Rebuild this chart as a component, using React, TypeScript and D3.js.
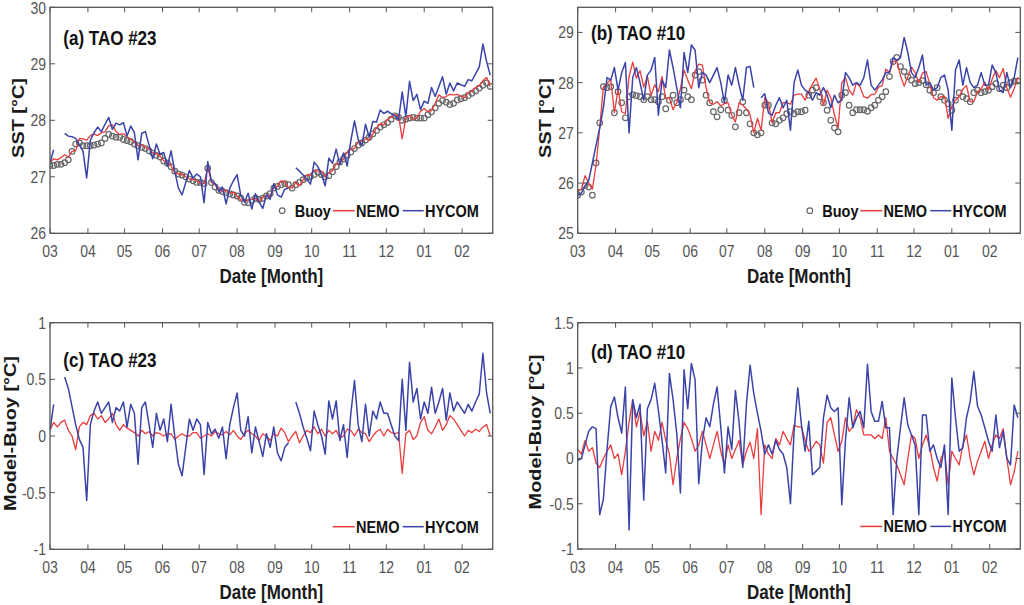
import React from 'react';
import * as d3 from 'd3';

// ---------- time axis ----------
const START = new Date(2015, 2, 1);
const END = new Date(2016, 1, 26);
const dayOffsets: number[] = d3.range(0, 361, 3);
const dates: Date[] = dayOffsets.map((d) => d3.timeDay.offset(START, d));

// ---------- (a) TAO #23 SST ----------
const buoyA = [
  27.2, 27.2, 27.22, 27.22, 27.25, 27.3, 27.45, 27.58, 27.6, 27.55,
  27.55, 27.55, 27.56, 27.58, 27.6, 27.68, 27.75, 27.72, 27.7, 27.7,
  27.66, 27.64, 27.62, 27.58, 27.55, 27.52, 27.5, 27.46, 27.42, 27.38,
  27.35, 27.28, 27.24, 27.18, 27.1, 27.05, 27.03, 27.0, 26.96, 26.93,
  26.9, 26.9, 26.88, 27.15, 26.9, 26.82, 26.76, 26.74, 26.72, 26.7,
  26.68, 26.66, 26.62, 26.55, 26.54, 26.58, 26.62, 26.6, 26.62, 26.66,
  26.7, 26.8, 26.83, 26.86, 26.88, 26.86, 26.8, 26.86, 26.9, 26.95,
  26.98, 27.0, 27.04, 27.08, 27.04, 27.0, 27.02, 27.09, 27.18, 27.26,
  27.32, 27.38, 27.44, 27.5, 27.56, 27.6, 27.65, 27.7, 27.76, 27.82,
  27.88, 27.92, 27.96, 28.02, 28.08, 28.05, 28.0, 28.02, 28.04, 28.05,
  28.04, 28.04, 28.04, 28.1, 28.15, 28.22, 28.3, 28.35, 28.32, 28.28,
  28.3, 28.36, 28.38, 28.4, 28.44, 28.48, 28.52, 28.57, 28.62, 28.66,
  28.6,
];
const nemoA = [
  27.25, 27.32, 27.3, 27.34, 27.39, 27.35, 27.45, 27.46, 27.68, 27.67,
  27.65, 27.73, 27.76, 27.73, 27.78, 27.8, 27.9, 27.92, 27.8, 27.75,
  27.76, 27.71, 27.67, 27.61, 27.55, 27.57, 27.52, 27.5, 27.42, 27.41,
  27.37, 27.28, 27.26, 27.2, 27.07, 27.05, 27.05, 27.0, 26.96, 26.96,
  26.93, 26.88, 26.88, 27.17, 26.9, 26.86, 26.78, 26.75, 26.76, 26.71,
  26.73, 26.66, 26.59, 26.57, 26.59, 26.6, 26.62, 26.56, 26.64, 26.66,
  26.66, 26.82, 26.83, 26.93, 26.91, 26.81, 26.8, 26.9, 26.84, 26.95,
  27.03, 27.03, 27.12, 27.1, 27.1, 27.0, 27.07, 27.11, 27.23, 27.24,
  27.32, 27.44, 27.49, 27.5, 27.62, 27.63, 27.67, 27.65, 27.76, 27.86,
  27.94, 27.92, 28.02, 28.05, 28.1, 28.08, 27.67, 28.04, 28.09, 28.02,
  28.04, 28.16, 28.21, 28.15, 28.17, 28.3, 28.45, 28.4, 28.42, 28.46,
  28.45, 28.46, 28.43, 28.4, 28.49, 28.51, 28.58, 28.61, 28.7, 28.76,
  28.6,
];
const hycomA: (number | null)[] = [
  27.25, 27.48, null, null, 27.77, 27.72, 27.71, 27.68, 27.57, 27.45,
  26.98, 27.65, 27.78, 27.88, 27.8, 27.93, 28.05, 27.84, 27.95, 27.92,
  27.96, 27.72, 27.9, 27.78, 27.3, 27.77, 27.8, 27.56, 27.32, 27.58,
  27.4, 27.43, 27.19, 27.46, 27.1, 26.8, 26.68, 26.9, 27.11, 26.98,
  27.05, 27.0, 26.54, 27.27, 26.92, 26.88, 26.74, 26.82, 26.52, 26.8,
  26.93, 27.04, 26.67, 26.55, 26.71, 26.43, 26.7, 26.55, 26.44, 26.68,
  26.6, 26.88, 26.68, 26.64, 26.78, 26.8, null, 27.16, 27.1, 27.03,
  26.96, 26.87, 27.26, 27.18, 27.04, 26.84, 27.33, 27.24, 27.49, 27.22,
  27.42, 27.19, 27.64, 27.99, 27.66, 27.55, 27.93, 27.7, 27.98, 27.97,
  28.18, 28.12, 28.16, 28.12, 28.08, 28.01, 28.5, 28.07, 28.69, 28.35,
  28.46, 28.19, 28.34, 28.3, 28.58, 28.42, 28.6, 28.77, 28.46, 28.66,
  28.52, 28.66, 28.63, 28.6, 28.72, 28.7, 28.82, 28.94, 29.35, 29.04,
  28.8,
];

// ---------- (b) TAO #10 SST ----------
const buoyB = [
  25.76, 25.82, 25.95, 25.92, 25.76, 26.4, 27.2, 27.92, 27.9, 27.92,
  27.4, 27.82, 27.6, 27.3, 27.72, 27.76, 27.74, 27.72, 27.66, 27.72,
  27.66, 27.66, 27.62, 27.72, 27.48, 27.65, 27.75, 27.6, 27.66, 27.85,
  27.72, 27.66, 28.15, 28.22, 28.05, 27.75, 27.6, 27.42, 27.32, 27.46,
  27.65, 27.45, 27.35, 27.12, 27.4, 27.62, 27.4, 27.18, 27.0, 26.96,
  27.0, 27.55, 27.55, 27.2, 27.18, 27.25, 27.3, 27.38, 27.42, 27.38,
  27.42, 27.42, 27.45, 27.75, 27.85, 27.9, 27.72, 27.6, 27.45, 27.25,
  27.1, 27.02, 27.75, 27.8, 27.55, 27.4, 27.46, 27.46, 27.46, 27.43,
  27.5, 27.55, 27.65, 27.72, 27.82, 28.12, 28.42, 28.5, 28.32, 28.22,
  28.12, 28.05, 27.98, 28.0, 28.04, 27.96, 27.85, 27.8, 27.9, 27.72,
  27.65, 27.58, 27.45, 27.65, 27.8, 27.72, 27.68, 27.62, 27.8, 27.85,
  27.8, 27.82, 27.85, 27.92, 27.98, 27.88, 27.95, 27.9, 28.0, 28.03,
  28.03,
];
const nemoB = [
  25.86, 25.87, 26.15, 26.0, 25.88, 26.35, 27.1, 27.92, 27.98, 28.07,
  27.4, 27.87, 27.42, 27.38, 28.12, 28.41, 28.09, 28.24, 27.91, 28.13,
  27.74, 27.96, 27.82, 28.12, 27.68, 27.7, 27.46, 27.6, 27.88, 28.25,
  28.05, 27.88, 28.23, 28.37, 28.35, 27.9, 27.6, 27.57, 27.62, 27.54,
  27.58, 27.6, 27.35, 27.22, 27.6, 27.55, 27.48, 27.36, 27.0, 27.29,
  27.05, 27.7, 27.6, 27.2, 27.4, 27.4, 27.6, 27.6, 27.57, 27.75,
  27.77, 27.77, 27.65, 27.83, 27.97, 28.09, 27.87, 27.55, 27.85, 27.7,
  27.36, 27.1, 28.0, 28.1, 27.85, 27.75, 28.0, 27.91, 27.72, 27.69,
  27.76, 27.77, 27.91, 27.94, 28.27, 28.2, 28.42, 28.43, 28.14, 27.93,
  28.12, 28.31, 28.2, 28.0, 28.19, 28.22, 27.97, 27.7, 27.65, 27.72,
  27.73, 27.29, 27.53, 27.65, 27.73, 27.87, 27.94, 27.62, 27.62, 27.82,
  27.88, 28.01, 27.85, 28.07, 28.24, 28.1, 28.28, 27.9, 27.71, 27.88,
  28.11,
];
const hycomB: (number | null)[] = [
  25.75, 25.8, 25.95, 26.05, 26.4, 26.75, 27.1, 27.5, 28.1, 28.05,
  28.3, 27.85, 28.2, 28.4, 27.0, 28.1, 28.3, 28.0, 27.65, 28.15,
  28.25, 28.5, 27.35, 28.05, 27.9, 28.65, 28.3, 27.9, 27.5, 28.6,
  28.2, 28.75, 28.65, 27.9, 28.2, 28.15, 28.0, 28.15, 28.3, 28.0,
  27.6, 28.15, 27.95, 28.3, 27.95, 27.65, 28.3, 28.32, 27.9, null,
  27.7, 27.78, 27.4, 27.35, 27.55, 27.7, 27.5, 27.65, 27.05, 28.0,
  28.25, 27.95, 27.85, 27.8, 27.65, 27.8, 27.75, 27.9, 27.75, 27.5,
  27.75, 27.6, 27.65, 28.2, 28.1, 27.95, 28.0, 27.95, 28.1, 28.45,
  27.95, 27.85, 27.95, 28.05, 28.2, 28.2, 28.5, 28.45, 28.5, 28.9,
  28.6, 28.2, 28.1, 28.3, 28.55, 27.95, 28.0, 27.85, 27.9, 28.1,
  28.15, 27.85, 27.05, 28.25, 28.45, 27.95, 28.3, 28.0, 27.9, 27.95,
  28.2, 27.95, 27.95, 28.35, 28.2, 27.85, 27.8, 28.2, 27.9, 28.1,
  28.5,
];

// ---------- (c) TAO #23 Model-Buoy ----------
const nemoC = [
  0.05, 0.12, 0.08, 0.12, 0.14, 0.05, 0.0, -0.12, 0.08, 0.12,
  0.1, 0.18, 0.2, 0.15, 0.18, 0.12, 0.15, 0.2, 0.1, 0.05,
  0.1, 0.07, 0.05, 0.03, 0.0, 0.05, 0.02, 0.04, 0.0, 0.03,
  0.02, 0.0, 0.02, 0.02, -0.03, 0.0, 0.02, 0.0, 0.0, 0.03,
  0.03, -0.02, 0.0, 0.02, 0.0, 0.04, 0.02, 0.01, 0.04, 0.01,
  0.05, 0.0, -0.03, 0.02, 0.05, 0.02, 0.0, -0.04, 0.02, 0.0,
  -0.04, 0.02, 0.0, 0.07, 0.03, -0.05, 0.0, 0.04, -0.06, 0.0,
  0.05, 0.03, 0.08, 0.02, 0.06, 0.0, 0.05, 0.02, 0.05, -0.02,
  0.0, 0.06, 0.05, 0.0, 0.06, 0.03, 0.02, -0.05, 0.0, 0.04,
  0.06, 0.0, 0.06, 0.03, 0.02, 0.03, -0.33, 0.02, 0.05, -0.03,
  0.0, 0.12, 0.17, 0.05, 0.02, 0.08, 0.15, 0.05, 0.1, 0.18,
  0.15, 0.1, 0.05, 0.0, 0.05, 0.03, 0.06, 0.04, 0.08, 0.1,
  0.0,
];
const hycomC: (number | null)[] = [
  0.05, 0.28, null, null, 0.52, 0.42, 0.26, 0.1, -0.03, -0.1,
  -0.57, 0.1, 0.22, 0.3, 0.2, 0.25, 0.3, 0.12, 0.25, 0.22,
  0.3, 0.08, 0.28, 0.2, -0.25, 0.25, 0.3, 0.1, -0.1, 0.2,
  0.05, 0.15, -0.05, 0.28, 0.0, -0.25, -0.35, -0.1, 0.15, 0.05,
  0.15, 0.1, -0.34, 0.12, 0.02, 0.06, -0.02, 0.08, -0.2, 0.1,
  0.25, 0.38, 0.05, 0.0, 0.17, -0.15, 0.08, -0.05, -0.18, 0.02,
  -0.1, 0.08, -0.15, -0.22, -0.1, -0.06, null, 0.3, 0.2, 0.08,
  -0.02, -0.13, 0.22, 0.1, 0.0, -0.16, 0.31, 0.15, 0.31, -0.04,
  0.1, -0.19, 0.2, 0.49, 0.1, -0.05, 0.28, 0.0, 0.22, 0.15,
  0.3, 0.2, 0.2, 0.1, 0.0, -0.04, 0.5, 0.05, 0.65, 0.3,
  0.42, 0.15, 0.3, 0.2, 0.43, 0.2, 0.3, 0.42, 0.14, 0.38,
  0.22, 0.3, 0.25, 0.2, 0.28, 0.22, 0.3, 0.37, 0.73, 0.38,
  0.2,
];

// ---------- (d) TAO #10 Model-Buoy ----------
const nemoD = [
  0.1, 0.05, 0.2, 0.08, 0.12, -0.05, -0.1, 0.0, 0.08, 0.15,
  0.0, 0.05, -0.18, 0.08, 0.4, 0.65, 0.35, 0.52, 0.25, 0.41,
  0.08, 0.3, 0.2, 0.4, 0.2, 0.05, -0.29, 0.0, 0.22, 0.4,
  0.33, 0.22, 0.08, 0.15, 0.3, 0.15, 0.0, 0.15, 0.3, 0.08,
  -0.07, 0.15, 0.0, 0.1, 0.2, -0.07, 0.08, 0.18, 0.0, 0.33,
  -0.62, 0.15, 0.05, 0.0, 0.22, 0.15, 0.3, 0.22, 0.15, 0.37,
  0.35, 0.35, 0.2, 0.08, 0.12, 0.19, 0.15, -0.05, 0.4, 0.45,
  0.26, 0.08, 0.19, 0.45, 0.3, 0.35, 0.54, 0.45, 0.26, 0.26,
  0.26, 0.22, 0.26, 0.22, 0.45, 0.08, 0.0, -0.07, -0.18, -0.29,
  0.0, 0.26, 0.22, 0.0, 0.15, 0.26, 0.12, -0.1, -0.25, 0.0,
  0.08, -0.29, 0.08, 0.0, -0.07, 0.15, 0.26, 0.0, -0.18, -0.03,
  0.08, 0.19, 0.0, 0.15, 0.26, 0.22, 0.33, 0.0, -0.29, -0.15,
  0.08,
];
const hycomD: (number | null)[] = [
  -0.02, 0.0, 0.15, 0.3, 0.35, 0.33, -0.62, -0.45, 0.1, 0.57,
  0.68, 0.45, 0.28, 0.79, -0.79, 0.65, 0.45, 0.6, -0.46, 0.55,
  0.65, 0.83, 0.53, 0.2, -0.16, 0.94, 0.65, 0.28, -0.38, 0.98,
  0.55, 1.05, 0.87, -0.28, 0.2, 0.45, 0.35, 0.6, 0.79, 0.35,
  -0.16, 0.35, 0.1, 0.75, 0.4, -0.1, 0.6, 1.03, 0.72, 0.5,
  0.3, 0.05, 0.15, 0.05, 0.2, 0.1, 0.05, -0.1, -0.5, 0.3,
  0.78, 0.37, 0.08, 0.41, -0.18, -0.14, -0.1, 0.45, 0.7, 0.56,
  0.52, 0.56, -0.51, 0.2, 0.67, 0.34, 0.45, 0.52, 0.34, 1.04,
  0.52, 0.41, 0.41, 0.63, 0.34, 0.34, -0.62, 0.0, 0.34, 0.67,
  0.37, 0.26, 0.15, -0.62, 0.48, 0.48, 0.08, 0.15, 0.0, -0.1,
  0.15, -0.62, 0.89, 0.45, 0.08, 0.12, 0.45, 0.63, 0.96, 0.58,
  0.48, 0.34, 0.19, 0.08, 0.48, 0.12, 0.3, 0.0, -0.07, 0.59,
  0.45,
];

// ---------- ticks ----------
const sstTicksA = [26, 27, 28, 29, 30];
const sstTicksB = [25, 26, 27, 28, 29];
const diffTicksC = [-1, -0.5, 0, 0.5, 1];
const diffTicksD = [-1, -0.5, 0, 0.5, 1, 1.5];

const RED = '#ea3c3c';
const BLUE = '#3a44a8';
const GRAY = '#666666';
const VS = 1.17; // vertical text stretch of the reference

type Panel = {
  id: string;
  left: number; right: number; top: number; bottom: number;
  yDomain: [number, number];
  yTicks: number[];
  title: string; titleBase: number;
  yLabel: string; yLabelX: number; yLabelY: number;
  buoy?: number[];
  nemo: (number | null)[];
  hycom: (number | null)[];
};

const panels: Panel[] = [
  { id: 'a', left: 50, right: 492.7, top: 7.3, bottom: 233.3, yDomain: [26, 30], yTicks: sstTicksA,
    title: '(a) TAO #23', titleBase: 45, yLabel: 'SST [°C]', yLabelX: 23.5, yLabelY: 118,
    buoy: buoyA, nemo: nemoA, hycom: hycomA },
  { id: 'b', left: 577.7, right: 1020.3, top: 7.3, bottom: 233.3, yDomain: [25, 29.5], yTicks: sstTicksB,
    title: '(b) TAO #10', titleBase: 40, yLabel: 'SST [°C]', yLabelX: 551, yLabelY: 118,
    buoy: buoyB, nemo: nemoB, hycom: hycomB },
  { id: 'c', left: 50, right: 492.7, top: 322.7, bottom: 549.3, yDomain: [-1, 1], yTicks: diffTicksC,
    title: '(c) TAO #23', titleBase: 366.5, yLabel: 'Model-Buoy [°C]', yLabelX: 15.5, yLabelY: 433.5,
    nemo: nemoC, hycom: hycomC },
  { id: 'd', left: 577.7, right: 1020.3, top: 322.7, bottom: 549, yDomain: [-1, 1.5], yTicks: diffTicksD,
    title: '(d) TAO #10', titleBase: 358.5, yLabel: 'Model-Buoy [°C]', yLabelX: 541, yLabelY: 432,
    nemo: nemoD, hycom: hycomD },
];

const fmtMonth = d3.timeFormat('%m');
const monthTicks = d3.timeMonth.range(START, END);

function STxt(props: { x: number; y: number; children: React.ReactNode; [k: string]: any }) {
  const { x, y, children, ...rest } = props;
  return (
    <text transform={`translate(${x},${y}) scale(1,${VS})`} {...rest}>
      {children}
    </text>
  );
}

function PanelView({ p }: { p: Panel }) {
  const x = d3.scaleTime().domain([START, END]).range([p.left, p.right]);
  const y = d3.scaleLinear().domain(p.yDomain).range([p.bottom, p.top]);
  const line = d3
    .line<number | null>()
    .defined((v) => v != null)
    .x((_, i) => x(dates[i]))
    .y((v) => y(v as number));
  const clipId = `clip-${p.id}`;
  const TL = 5;
  const ly = p.bottom - 22.6;
  const R = p.right;
  const fontFam = '"Liberation Sans", Arial, Helvetica, sans-serif';
  return (
    <g fontFamily={fontFam}>
      <defs>
        <clipPath id={clipId}>
          <rect x={p.left} y={p.top} width={p.right - p.left} height={p.bottom - p.top} />
        </clipPath>
      </defs>
      <rect x={p.left} y={p.top} width={p.right - p.left} height={p.bottom - p.top} fill="#fff" />
      <g clipPath={`url(#${clipId})`}>
        {p.buoy &&
          p.buoy.map((v, i) => (
            <circle key={i} cx={x(dates[i])} cy={y(v)} r={2.8} fill="none" stroke={GRAY} strokeWidth={1.2} />
          ))}
        <path d={line(p.nemo) || ''} fill="none" stroke={RED} strokeWidth={1.3} strokeLinejoin="round" />
        <path d={line(p.hycom) || ''} fill="none" stroke={BLUE} strokeWidth={1.5} strokeLinejoin="round" />
      </g>
      {/* ticks */}
      {monthTicks.map((m, i) => {
        const tx = x(m);
        return (
          <g key={'x' + i}>
            <line x1={tx} x2={tx} y1={p.bottom} y2={p.bottom - TL} stroke="#555" strokeWidth={1} />
            <line x1={tx} x2={tx} y1={p.top} y2={p.top + TL} stroke="#555" strokeWidth={1} />
            <STxt x={tx} y={p.bottom + 18} textAnchor="middle" dominantBaseline="central" fontSize={14} fill="#555">
              {fmtMonth(m)}
            </STxt>
          </g>
        );
      })}
      {p.yTicks.map((t, i) => {
        const ty = y(t);
        const yy = Math.max(ty, 8.2);
        return (
          <g key={'y' + i}>
            <line x1={p.left} x2={p.left + TL} y1={ty} y2={ty} stroke="#555" strokeWidth={1} />
            <line x1={p.right} x2={p.right - TL} y1={ty} y2={ty} stroke="#555" strokeWidth={1} />
            <STxt x={p.left - 4} y={yy} textAnchor="end" dominantBaseline="central" fontSize={14} fill="#555">
              {String(t)}
            </STxt>
          </g>
        );
      })}
      <rect x={p.left} y={p.top} width={p.right - p.left} height={p.bottom - p.top} fill="none" stroke="#555" strokeWidth={1.3} />
      {/* title */}
      <STxt x={p.left + 13.3} y={p.titleBase} fontSize={17} fontWeight="bold" fill="#111">
        {p.title}
      </STxt>
      {/* axis labels */}
      <STxt x={(p.left + p.right) / 2} y={p.bottom + 50} textAnchor="middle" fontSize={17} fontWeight="bold" fill="#1a1a1a">
        Date [Month]
      </STxt>
      <text
        transform={`translate(${p.yLabelX},${p.yLabelY}) rotate(-90) scale(${VS},1)`}
        textAnchor="middle"
        fontSize={17}
        fontWeight="bold"
        fill="#1a1a1a"
      >
        {p.yLabel}
      </text>
      {/* legend */}
      <g>
        {p.buoy && (
          <>
            <circle cx={R - 210.5} cy={ly} r={2.8} fill="none" stroke={GRAY} strokeWidth={1.2} />
            <STxt x={R - 198} y={ly} dominantBaseline="central" fontSize={14.5} fontWeight="bold" fill="#111">
              Buoy
            </STxt>
          </>
        )}
        <line x1={R - 160} x2={R - 138} y1={ly} y2={ly} stroke={RED} strokeWidth={1.5} />
        <STxt x={R - 136.7} y={ly} dominantBaseline="central" fontSize={14.5} fontWeight="bold" fill="#111">
          NEMO
        </STxt>
        <line x1={R - 90} x2={R - 69} y1={ly} y2={ly} stroke={BLUE} strokeWidth={1.5} />
        <STxt x={R - 67.7} y={ly} dominantBaseline="central" fontSize={14.5} fontWeight="bold" fill="#111">
          HYCOM
        </STxt>
      </g>
    </g>
  );
}

export default function App() {
  return (
    <svg
      width={1024}
      height={605}
      viewBox="0 0 1024 605"
      style={{ position: 'absolute', left: 0, top: 0, background: '#fff' }}
    >
      <rect x={0} y={0} width={1024} height={605} fill="#fff" />
      {panels.map((p) => (
        <PanelView key={p.id} p={p} />
      ))}
    </svg>
  );
}
